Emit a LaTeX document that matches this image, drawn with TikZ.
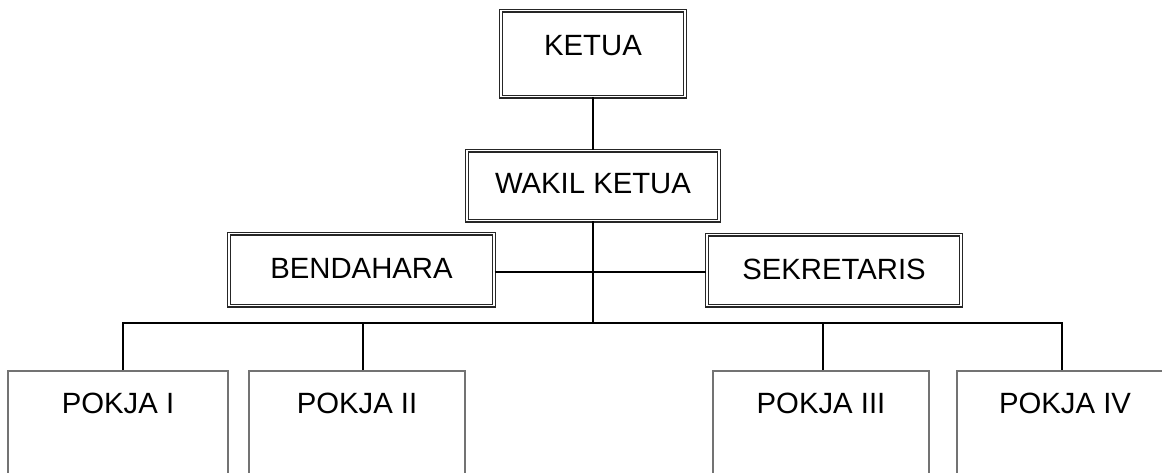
\documentclass[tikz,border=0pt]{standalone}
\usepackage{fontspec}
\setmainfont{Liberation Sans}
\begin{document}
\begin{tikzpicture}[x=1pt,y=-1pt,
  dbox/.style={draw=black!85,line width=1.2pt,double=white,double distance=1.6pt,
    inner xsep=0pt,inner ysep=0pt,font=\fontsize{29.3}{29.3}\selectfont,anchor=north},
  pbox/.style={draw=black!55,line width=1.5pt,inner xsep=0pt,inner ysep=0pt,
    font=\fontsize{29.3}{29.3}\selectfont,anchor=north,text height=42.5pt,text depth=75pt},
  conn/.style={draw=black,line width=1.3pt}]
\useasboundingbox (0,0) rectangle (1162,473);
\clip (0,0) rectangle (1162,473);
\node[dbox,minimum width=184pt,text height=44.5pt,text depth=41.5pt] (ketua) at (593,10) {KETUA};
\node[dbox,minimum width=252pt,text height=43pt,text depth=27pt] (wakil) at (593,150) {WAKIL KETUA};
\node[dbox,minimum width=265pt,text height=45pt,text depth=27pt] (bend) at (361.5,233) {BENDAHARA};
\node[dbox,minimum width=254pt,text height=44.5pt,text depth=26.5pt] (sek) at (834,234) {SEKRETARIS};
\node[pbox,minimum width=220pt] (p1) at (118,370) {POKJA I};
\node[pbox,minimum width=216pt] (p2) at (357,370) {POKJA II};
\node[pbox,minimum width=216pt] (p3) at (821,370) {POKJA III};
\node[pbox,minimum width=230pt] (p4) at (1072,370) {\hspace*{-14pt}POKJA IV};
\coordinate (bus) at (593,323);
\coordinate (cross) at (593,272);
\draw[conn] (ketua.south) -- (wakil.north);
\draw[conn] (wakil.south) -- (bus);
\draw[conn] (bend.east |- cross) -- (sek.west |- cross);
\draw[conn] ([xshift=5pt]p1.north) |- (bus) -| ([xshift=-10pt]p4.north);
\draw[conn] ([xshift=6pt]p2.north) -- ([xshift=6pt]p2.north |- bus);
\draw[conn] ([xshift=2pt]p3.north) -- ([xshift=2pt]p3.north |- bus);
\end{tikzpicture}
\end{document}
